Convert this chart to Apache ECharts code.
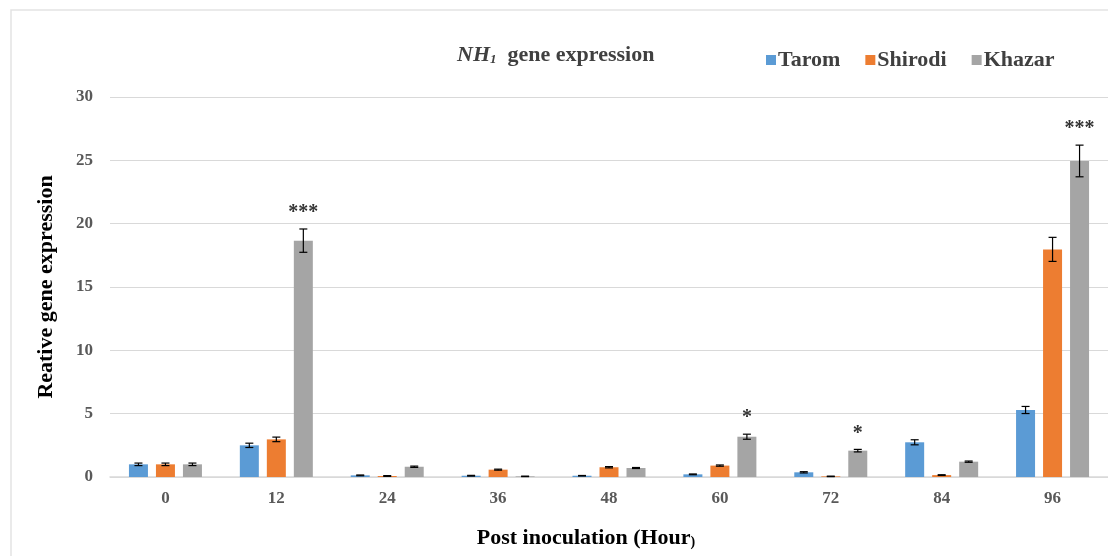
<!DOCTYPE html>
<html>
<head>
<meta charset="utf-8">
<script src="https://cdn.jsdelivr.net/npm/echarts@6/dist/echarts.min.js"></script>
<style>html,body{margin:0;padding:0;background:#fff}#c{width:1108px;height:556px}</style>
</head>
<body>
<div id="c"></div>
<script>
const categories = ['0','12','24','36','48','60','72','84','96'];
const tarom   = [1.0, 2.5, 0.13, 0.1, 0.1, 0.21, 0.37, 2.74, 5.29];
const shirodi = [1.0, 2.97, 0.08, 0.58, 0.77, 0.9, 0.05, 0.15, 17.97];
const khazar  = [1.0, 18.66, 0.81, 0.05, 0.71, 3.18, 2.08, 1.21, 24.95];
const taromErr   = [0.1, 0.17, 0.03, 0.03, 0.02, 0.03, 0.05, 0.2, 0.28];
const shirodiErr = [0.1, 0.18, 0.03, 0.04, 0.05, 0.05, 0.02, 0.03, 0.95];
const khazarErr  = [0.1, 0.92, 0.05, 0.02, 0.04, 0.2, 0.1, 0.05, 1.25];
const khazarSig  = ['', '***', '', '', '', '*', '*', '', '***'];
const yTicks = [0, 5, 10, 15, 20, 25, 30];

const FONT = '"Liberation Serif", "DejaVu Serif", serif';
const colors = ['#5B9BD5', '#ED7D31', '#A5A5A5'];
const BAR_W = 19, GAP = 8;

function errSeries(name, vals, errs, idx, sig) {
  const offset = (idx - 1) * (BAR_W + GAP);
  return {
    type: 'custom',
    name: name + ' err',
    z: 10,
    silent: true,
    data: vals.map((v, i) => [i, v, errs[i]]),
    renderItem: function (params, api) {
      const x = api.value(0), v = api.value(1), e = api.value(2);
      const s = sig ? sig[x] : '';
      const top = api.coord([x, v + e]);
      const bot = api.coord([x, v - e]);
      const cx = top[0] + offset;
      const cap = 4;
      const st = { stroke: '#000', lineWidth: 1.2 };
      const children = [
        { type: 'line', shape: { x1: cx, y1: top[1], x2: cx, y2: bot[1] }, style: st },
        { type: 'line', shape: { x1: cx - cap, y1: top[1], x2: cx + cap, y2: top[1] }, style: st },
        { type: 'line', shape: { x1: cx - cap, y1: bot[1], x2: cx + cap, y2: bot[1] }, style: st }
      ];
      if (s) {
        children.push({
          type: 'text',
          style: { text: s, x: cx, y: top[1] - 6, textAlign: 'center', textVerticalAlign: 'bottom',
                   font: 'bold 20px ' + FONT, fill: '#333' }
        });
      }
      return { type: 'group', children: children };
    }
  };
}

const chart = echarts.init(document.getElementById('c'));
chart.setOption({
  animation: false,
  backgroundColor: '#fff',
  graphic: [{
    type: 'rect', shape: { x: 11, y: 10, width: 1200, height: 700 },
    style: { fill: 'none', stroke: '#e3e3e3', lineWidth: 1.5 }, silent: true, z: -10
  }],
  title: {
    text: '{i|NH}{s|1}{b|  gene expression}',
    left: 452, top: 39,
    textStyle: {
      rich: {
        i: { fontFamily: FONT, fontSize: 22, fontWeight: 'bold', fontStyle: 'italic', color: '#404040' },
        s: { fontFamily: FONT, fontSize: 13, fontWeight: 'bold', fontStyle: 'italic', color: '#404040', verticalAlign: 'bottom', padding: [9, 0, 0, 0] },
        b: { fontFamily: FONT, fontSize: 22, fontWeight: 'bold', color: '#404040' }
      }
    }
  },
  legend: {
    left: 761, top: 44,
    itemWidth: 10, itemHeight: 10, itemGap: 25,
    icon: 'rect',
    textStyle: { fontFamily: FONT, fontSize: 22, fontWeight: 'bold', color: '#404040', padding: [0, 0, 0, -3] },
    data: ['Tarom', 'Shirodi', 'Khazar']
  },
  grid: { left: 110, top: 97, width: 1006, bottom: 79 },
  xAxis: {
    type: 'category',
    data: categories,
    axisLine: { lineStyle: { color: '#d9d9d9', width: 1.5 } },
    axisTick: { show: false },
    axisLabel: { fontFamily: FONT, fontSize: 17, fontWeight: 'bold', color: '#595959', margin: 13 },
    name: '{a|Post inoculation (Hour}{p|)}',
    nameLocation: 'middle',
    nameGap: 50,
    nameTextStyle: {
      padding: [0, 46, 0, 0],
      rich: {
        a: { fontFamily: FONT, fontSize: 22, fontWeight: 'bold', color: '#000' },
        p: { fontFamily: FONT, fontSize: 14, fontWeight: 'bold', color: '#000', verticalAlign: 'bottom' }
      }
    }
  },
  yAxis: {
    type: 'value',
    min: yTicks[0], max: yTicks[yTicks.length - 1], interval: 5,
    axisLine: { show: false },
    axisTick: { show: false },
    splitLine: { lineStyle: { color: '#d9d9d9', width: 1.2 } },
    axisLabel: { fontFamily: FONT, fontSize: 17, fontWeight: 'bold', color: '#595959', margin: 17 },
    name: 'Reative gene expression',
    nameLocation: 'middle',
    nameGap: 53,
    nameTextStyle: { fontFamily: FONT, fontSize: 22, fontWeight: 'bold', color: '#000' }
  },
  series: [
    { name: 'Tarom', type: 'bar', data: tarom, barWidth: BAR_W, barGap: (GAP / BAR_W * 100) + '%',
      itemStyle: { color: colors[0] } },
    { name: 'Shirodi', type: 'bar', data: shirodi, barWidth: BAR_W, barGap: (GAP / BAR_W * 100) + '%',
      itemStyle: { color: colors[1] } },
    { name: 'Khazar', type: 'bar', data: khazar, barWidth: BAR_W, barGap: (GAP / BAR_W * 100) + '%',
      itemStyle: { color: colors[2] } },
    errSeries('Tarom', tarom, taromErr, 0, null),
    errSeries('Shirodi', shirodi, shirodiErr, 1, null),
    errSeries('Khazar', khazar, khazarErr, 2, khazarSig)
  ]
});
</script>
</body>
</html>
